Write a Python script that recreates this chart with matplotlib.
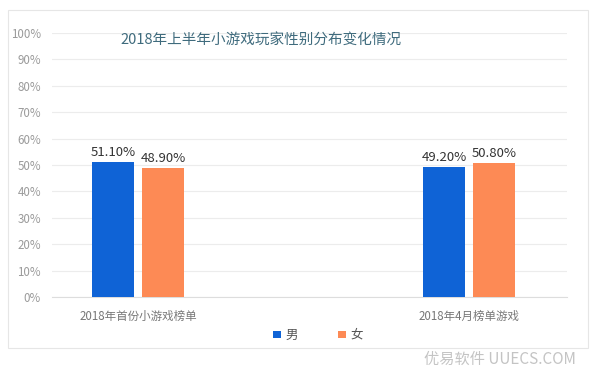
import numpy as np
import matplotlib.pyplot as plt
from matplotlib.patches import Rectangle

plt.rcParams['font.family'] = ['Noto Sans CJK SC', 'DejaVu Sans']

# data
categories = ['2018年首份小游戏榜单', '2018年4月榜单游戏']
male = [51.10, 49.20]
female = [48.90, 50.80]
series_names = ['男', '女']
yticks = [0, 10, 20, 30, 40, 50, 60, 70, 80, 90, 100]

blue = '#0f63d6'
orange = '#fd8a55'

fig = plt.figure(figsize=(6, 3.82), dpi=100)

# white card with thin border
card = Rectangle((0.013, 0.089), 0.967, 0.885, transform=fig.transFigure,
                 facecolor='white', edgecolor='#e6e6e6', linewidth=0.8, zorder=-5)
fig.patches.append(card)

ax = fig.add_axes([0.087, 0.2225, 0.858, 0.6911])
ax.set_facecolor('none')

x = np.arange(len(categories))
w = 0.127
off = 0.075
b1 = ax.bar(x - off, male, w, color=blue, label=series_names[0], zorder=3)
b2 = ax.bar(x + off, female, w, color=orange, label=series_names[1], zorder=3)

for bars, vals in ((b1, male), (b2, female)):
    for b, v in zip(bars, vals):
        ax.text(b.get_x() + b.get_width() / 2, v + 1.2, f'{v:.2f}%',
                ha='center', va='bottom', fontsize=9.5, color='#333333')

ax.set_xlim(-0.26, 1.296)
ax.set_ylim(0, 100)
ax.set_yticks(yticks)
ax.set_yticklabels([f'{t}%' for t in yticks], fontsize=8.3, color='#9a9a9a')
ax.set_xticks(x)
ax.set_xticklabels(categories, fontsize=8.3, color='#777777')
ax.tick_params(axis='x', length=0, pad=9)
ax.tick_params(axis='y', length=0, pad=8)
ax.grid(axis='y', color='#ececec', linewidth=0.8, zorder=0)
for s in ('top', 'right', 'left'):
    ax.spines[s].set_visible(False)
ax.spines['bottom'].set_color('#dddddd')

fig.text(0.435, 0.895, '2018年上半年小游戏玩家性别分布变化情况',
         ha='center', va='center', fontsize=10.5, color='#3f6b7d')

leg = fig.legend(handles=[b1, b2], loc='center', bbox_to_anchor=(0.53, 0.122),
                 ncol=2, frameon=False, fontsize=9, handlelength=0.6,
                 handleheight=0.6, handletextpad=0.4, columnspacing=3.2)
for t in leg.get_texts():
    t.set_color('#555555')

fig.text(0.96, 0.06, '优易软件 UUECS.COM', ha='right', va='center',
         fontsize=11, color='#c4c4c4')

fig.savefig('out.png', dpi=100)
